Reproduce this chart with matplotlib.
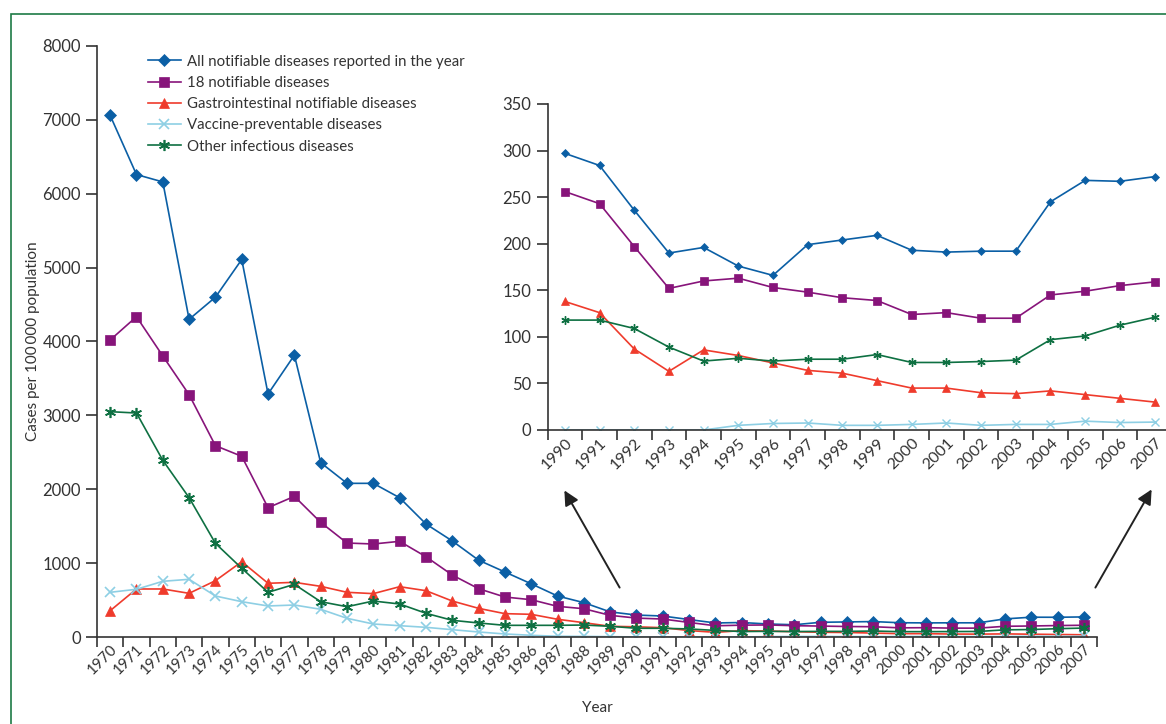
import numpy as np
import matplotlib
matplotlib.use('Agg')
import matplotlib.pyplot as plt
from matplotlib.ticker import MultipleLocator, FixedLocator
from matplotlib.patches import Rectangle

plt.rcParams['font.family'] = ['Lato', 'DejaVu Sans']

# Years
years = list(range(1970, 2008))
inset_years = list(range(1990, 2008))

# Cases per 100 000 population, 1970-1989
all_early = [7060, 6260, 6160, 4300, 4600, 5110, 3290, 3815, 2360, 2080,
             2080, 1885, 1530, 1300, 1040, 880, 720, 555, 465, 340]
n18_early = [4020, 4336, 3804, 3280, 2590, 2446, 1750, 1904, 1552, 1272,
             1259, 1295, 1087, 839, 654, 541, 505, 415, 383, 293]
gastro_early = [356, 650, 650, 591, 762, 1019, 727, 740, 686, 605,
                587, 681, 627, 487, 388, 316, 307, 240, 194, 145]
vaccine_early = [605, 646, 754, 781, 555, 478, 420, 433, 375, 253,
                 176, 153, 131, 99, 68, 41, 23, 10, 8, 5]
other_early = [3050, 3032, 2392, 1886, 1268, 930, 605, 713, 478, 410,
               487, 447, 321, 226, 190, 158, 158, 158, 162, 145]

# 1990-2007
all_late = [297, 284, 236, 190, 196, 176, 166, 199, 204, 209,
            193, 191, 192, 192, 245, 268, 267, 272]
n18_late = [256, 243, 197, 152, 160, 163, 153, 148, 142, 139,
            124, 126, 120, 120, 145, 149, 155, 159]
gastro_late = [138, 126, 87, 63, 86, 80, 72, 64, 61, 53,
               45, 45, 40, 39, 42, 38, 34, 30]
vaccine_late = [0, 0, 0, 0, 0, 5, 7, 7.5, 5, 5,
                6, 7.5, 5, 6, 6, 9.5, 8, 8.5]
other_late = [118, 118, 109, 89, 74, 77, 74, 76, 76, 81,
              72.5, 72.5, 73.5, 75, 97, 101, 112.5, 121]

labels = ['All notifiable diseases reported in the year',
          '18 notifiable diseases',
          'Gastrointestinal notifiable diseases',
          'Vaccine-preventable diseases',
          'Other infectious diseases']
colors = ['#0b5fa5', '#87147a', '#ef3b2c', '#8ecfe4', '#0e7042']
markers = ['D', 's', '^', 'x', (6, 2, 0)]
main_ms = [6.5, 7.5, 7.5, 7.5, 8]
inset_ms = [4, 5.5, 5.5, 5.5, 6]

early = [all_early, n18_early, gastro_early, vaccine_early, other_early]
late = [all_late, n18_late, gastro_late, vaccine_late, other_late]

text_col = '#333333'

fig = plt.figure(figsize=(11.66, 7.24), dpi=100)

# green frame
fig.patches.append(Rectangle((10.5 / 1166, -0.1), 1.2, (724 - 13.5) / 724 + 0.1,
                             transform=fig.transFigure, fill=False,
                             edgecolor='#1e7a45', linewidth=1.2))

ax = fig.add_axes([97 / 1166, 87 / 724, 1000 / 1166, 591 / 724])
for s, l, c, m, ms, lab in zip(early, late, colors, markers, main_ms, labels):
    ax.plot(years, s + l, color=c, marker=m, markersize=ms, linewidth=1.2,
            markeredgewidth=1.2 if m in ('x', (6, 2, 0)) else 0.5,
            markeredgecolor=c, label=lab)

ax.set_xlim(1969.5, 2007.5)
ax.set_ylim(0, 8000)
ax.yaxis.set_major_locator(MultipleLocator(1000))
ax.xaxis.set_major_locator(FixedLocator(years))
ax.xaxis.set_minor_locator(FixedLocator([y + 0.5 for y in range(1969, 2008)]))
ax.set_xticklabels([str(y) for y in years], rotation=45, ha='right', va='top',
                   rotation_mode='anchor')
ax.tick_params(axis='x', which='major', length=0, pad=4, labelsize=11, labelcolor=text_col)
ax.tick_params(axis='x', which='minor', length=7, width=1.2, color='#333333')
ax.tick_params(axis='y', length=8, width=1.2, color='#333333', labelsize=12, labelcolor=text_col)
for sp in ['top', 'right']:
    ax.spines[sp].set_visible(False)
for sp in ['left', 'bottom']:
    ax.spines[sp].set_linewidth(1.2)
    ax.spines[sp].set_color('#333333')
ax.set_ylabel('Cases per 100\u2009000 population', fontsize=11, color=text_col, labelpad=2)
ax.set_xlabel('Year', fontsize=11, color=text_col, labelpad=17)

leg = ax.legend(loc='upper left', bbox_to_anchor=(0.04, 1.003), frameon=False,
                fontsize=10.8, handlelength=2.2, labelspacing=0.48,
                handletextpad=0.45, borderaxespad=0.3)
for t in leg.get_texts():
    t.set_color(text_col)

# inset
axi = fig.add_axes([547.5 / 1166, 294 / 724, 618.5 / 1166, 326 / 724])
for l, c, m, ms in zip(late, colors, markers, inset_ms):
    axi.plot(inset_years, l, color=c, marker=m, markersize=ms, linewidth=1.2,
             markeredgewidth=1.0 if m in ('x', (6, 2, 0)) else 0.5,
             markeredgecolor=c)
axi.set_xlim(1989.5, 2007.33)
axi.set_ylim(0, 350)
axi.yaxis.set_major_locator(MultipleLocator(50))
axi.xaxis.set_major_locator(FixedLocator(inset_years))
axi.xaxis.set_minor_locator(FixedLocator([y + 0.5 for y in range(1989, 2008)]))
axi.set_xticklabels([str(y) for y in inset_years], rotation=45, ha='right', va='top',
                    rotation_mode='anchor')
axi.tick_params(axis='x', which='major', length=0, pad=4, labelsize=11.5, labelcolor=text_col)
axi.tick_params(axis='x', which='minor', length=7, width=1.2, color='#333333')
axi.tick_params(axis='y', length=8, width=1.2, color='#333333', labelsize=12, labelcolor=text_col)
for sp in ['top', 'right']:
    axi.spines[sp].set_visible(False)
for sp in ['left', 'bottom']:
    axi.spines[sp].set_linewidth(1.2)
    axi.spines[sp].set_color('#333333')

# arrows pointing to the inset
arrowprops = dict(arrowstyle='-|>', color='#222222', lw=1.4, mutation_scale=22)
ax.annotate('', xy=(563, 724 - 488), xytext=(621, 724 - 590),
            xycoords='figure pixels', textcoords='figure pixels', arrowprops=arrowprops)
ax.annotate('', xy=(1153, 724 - 487), xytext=(1094, 724 - 590),
            xycoords='figure pixels', textcoords='figure pixels', arrowprops=arrowprops)

fig.savefig('out.png', dpi=100)
